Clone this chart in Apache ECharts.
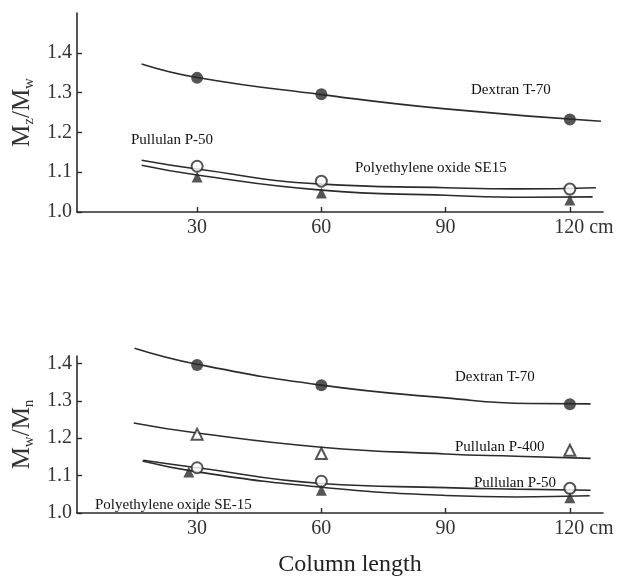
<!DOCTYPE html>
<html>
<head>
<meta charset="utf-8">
<script src="https://cdn.jsdelivr.net/npm/echarts@6/dist/echarts.min.js"></script>
<style>
html,body{margin:0;padding:0;background:#fff;}
#c{width:620px;height:578px;}
</style>
</head>
<body>
<div id="c"></div>
<script>
// ---- data ----
const xTicks = [30, 60, 90, 120];
const yTicks = [1.0, 1.1, 1.2, 1.3, 1.4];
const pointX = [30, 60, 120];

// Top panel: Mz/Mw
const mzDextran = [1.337, 1.296, 1.2325];
const mzP50 = [1.115, 1.0775, 1.0575];
const mzPEO = [1.088, 1.048, 1.030];
const mzDextranCurve = [[16.6, 1.372], [30, 1.338], [60, 1.295], [90, 1.259], [127.5, 1.228]];
const mzP50Curve = [[16.6, 1.130], [30, 1.108], [60, 1.070], [90, 1.061], [107, 1.058], [126.3, 1.061]];
const mzPEOCurve = [[16.6, 1.1175], [30, 1.093], [60, 1.055], [90, 1.042], [110, 1.037], [125.5, 1.038]];

// Bottom panel: Mw/Mn
const mwDextran = [1.396, 1.342, 1.291];
const mwP400 = [1.211, 1.159, 1.168];
const mwP50 = [1.121, 1.085, 1.066];
const mwPEOX = [28, 60, 120];
const mwPEO = [1.110, 1.061, 1.041];
const mwDextranCurve = [[14.9, 1.441], [30, 1.398], [60, 1.342], [90, 1.308], [110, 1.293], [125, 1.292]];
const mwP400Curve = [[14.7, 1.241], [30, 1.214], [60, 1.176], [90, 1.158], [107, 1.152], [125, 1.146]];
const mwP50Curve = [[17, 1.141], [30, 1.121], [60, 1.079], [90, 1.068], [107, 1.064], [125, 1.061]];
const mwPEOCurve = [[16.8, 1.139], [30, 1.110], [60, 1.069], [90, 1.047], [107, 1.043], [124.8, 1.046]];

const ink = '#2b2b2b';
const serif = '"Liberation Serif", "Times New Roman", serif';

function pairs(xs, ys) { return xs.map((x, i) => [x, ys[i]]); }

function xAxisCfg(gi, name) {
  const o = {
    type: 'value', gridIndex: gi, min: 1, max: 128,
    axisLine: { show: true, onZero: false, lineStyle: { color: ink, width: 1.6 } },
    axisTick: { show: true, inside: true, length: 5, customValues: xTicks, lineStyle: { color: ink, width: 1.4 } },
    axisLabel: {
      customValues: xTicks, color: '#333', fontFamily: serif, fontSize: 20, margin: 6,
      formatter: v => v === 120 ? '{p|}{n|120}{u| cm}' : String(v),
      rich: { p: { width: 28 }, n: { fontFamily: serif, fontSize: 20, color: '#333' }, u: { fontFamily: serif, fontSize: 20, color: '#333' } }
    },
    splitLine: { show: false }
  };
  if (name) {
    o.name = name; o.nameLocation = 'middle'; o.nameGap = 40;
    o.nameTextStyle = { fontFamily: serif, fontSize: 24, color: '#222', padding: [0, 0, 0, 20] };
  }
  return o;
}
function yAxisCfg(gi, max, sub1, sub2) {
  return {
    type: 'value', gridIndex: gi, min: 1.0, max: max,
    axisLine: { show: true, onZero: false, lineStyle: { color: ink, width: 1.6 } },
    axisTick: { show: true, inside: true, length: 5, customValues: yTicks, lineStyle: { color: ink, width: 1.4 } },
    axisLabel: { customValues: yTicks, color: '#333', fontFamily: serif, fontSize: 20, margin: 5, formatter: v => v.toFixed(1) },
    splitLine: { show: false },
    name: '{m|M}{s|' + sub1 + '}{m|/M}{s|' + sub2 + '}',
    nameLocation: 'middle', nameGap: 36,
    nameTextStyle: {
      rich: {
        m: { fontFamily: serif, fontSize: 25, color: '#333' },
        s: { fontFamily: serif, fontSize: 15, color: '#333', padding: [12, 0, 0, 0] }
      }
    }
  };
}
function curve(gi, data) {
  return { type: 'line', xAxisIndex: gi, yAxisIndex: gi, data: data, smooth: true, showSymbol: false, symbol: 'none',
    clip: false, lineStyle: { color: ink, width: 1.6 }, z: 2, silent: true };
}
function pts(gi, data, symbol, size) {
  const empty = symbol.indexOf('empty') === 0;
  return { type: 'scatter', xAxisIndex: gi, yAxisIndex: gi, data: data, symbol: symbol, symbolSize: size,
    clip: false, itemStyle: { color: ink, borderColor: ink, borderWidth: empty ? 1.6 : 0 }, z: 5, silent: true };
}
function txt(x, y, s) {
  return { type: 'text', x: x, y: y, style: { text: s, fontFamily: serif, fontSize: 15, fill: '#111',
    verticalAlign: 'middle', align: 'left' }, z: 20 };
}

const chart = echarts.init(document.getElementById('c'), null, { renderer: 'canvas' });
chart.setOption({
  animation: false,
  backgroundColor: '#fff',
  grid: [
    { left: 77, right: 17, top: 13, bottom: 366 },
    { left: 77, right: 17, top: 356, bottom: 56 }
  ],
  xAxis: [xAxisCfg(0), xAxisCfg(1, 'Column length')],
  yAxis: [yAxisCfg(0, 1.5, 'z', 'w'), yAxisCfg(1, 1.42, 'w', 'n')],
  series: [
    curve(0, mzDextranCurve), curve(0, mzP50Curve), curve(0, mzPEOCurve),
    pts(0, pairs(pointX, mzDextran), 'circle', 12),
    pts(0, pairs(pointX, mzP50), 'emptyCircle', 11),
    pts(0, pairs(pointX, mzPEO), 'triangle', 11),
    curve(1, mwDextranCurve), curve(1, mwP400Curve), curve(1, mwP50Curve), curve(1, mwPEOCurve),
    pts(1, pairs(pointX, mwDextran), 'circle', 12),
    pts(1, pairs(pointX, mwP400), 'emptyTriangle', 11),
    pts(1, pairs(pointX, mwP50), 'emptyCircle', 11),
    pts(1, pairs(mwPEOX, mwPEO), 'triangle', 11)
  ],
  graphic: [
    txt(471, 90, 'Dextran T-70'),
    txt(131, 140, 'Pullulan P-50'),
    txt(355, 168, 'Polyethylene oxide SE15'),
    txt(455, 377, 'Dextran T-70'),
    txt(455, 447, 'Pullulan P-400'),
    txt(474, 483, 'Pullulan P-50'),
    txt(95, 505, 'Polyethylene oxide SE-15')
  ]
});
</script>
</body>
</html>
